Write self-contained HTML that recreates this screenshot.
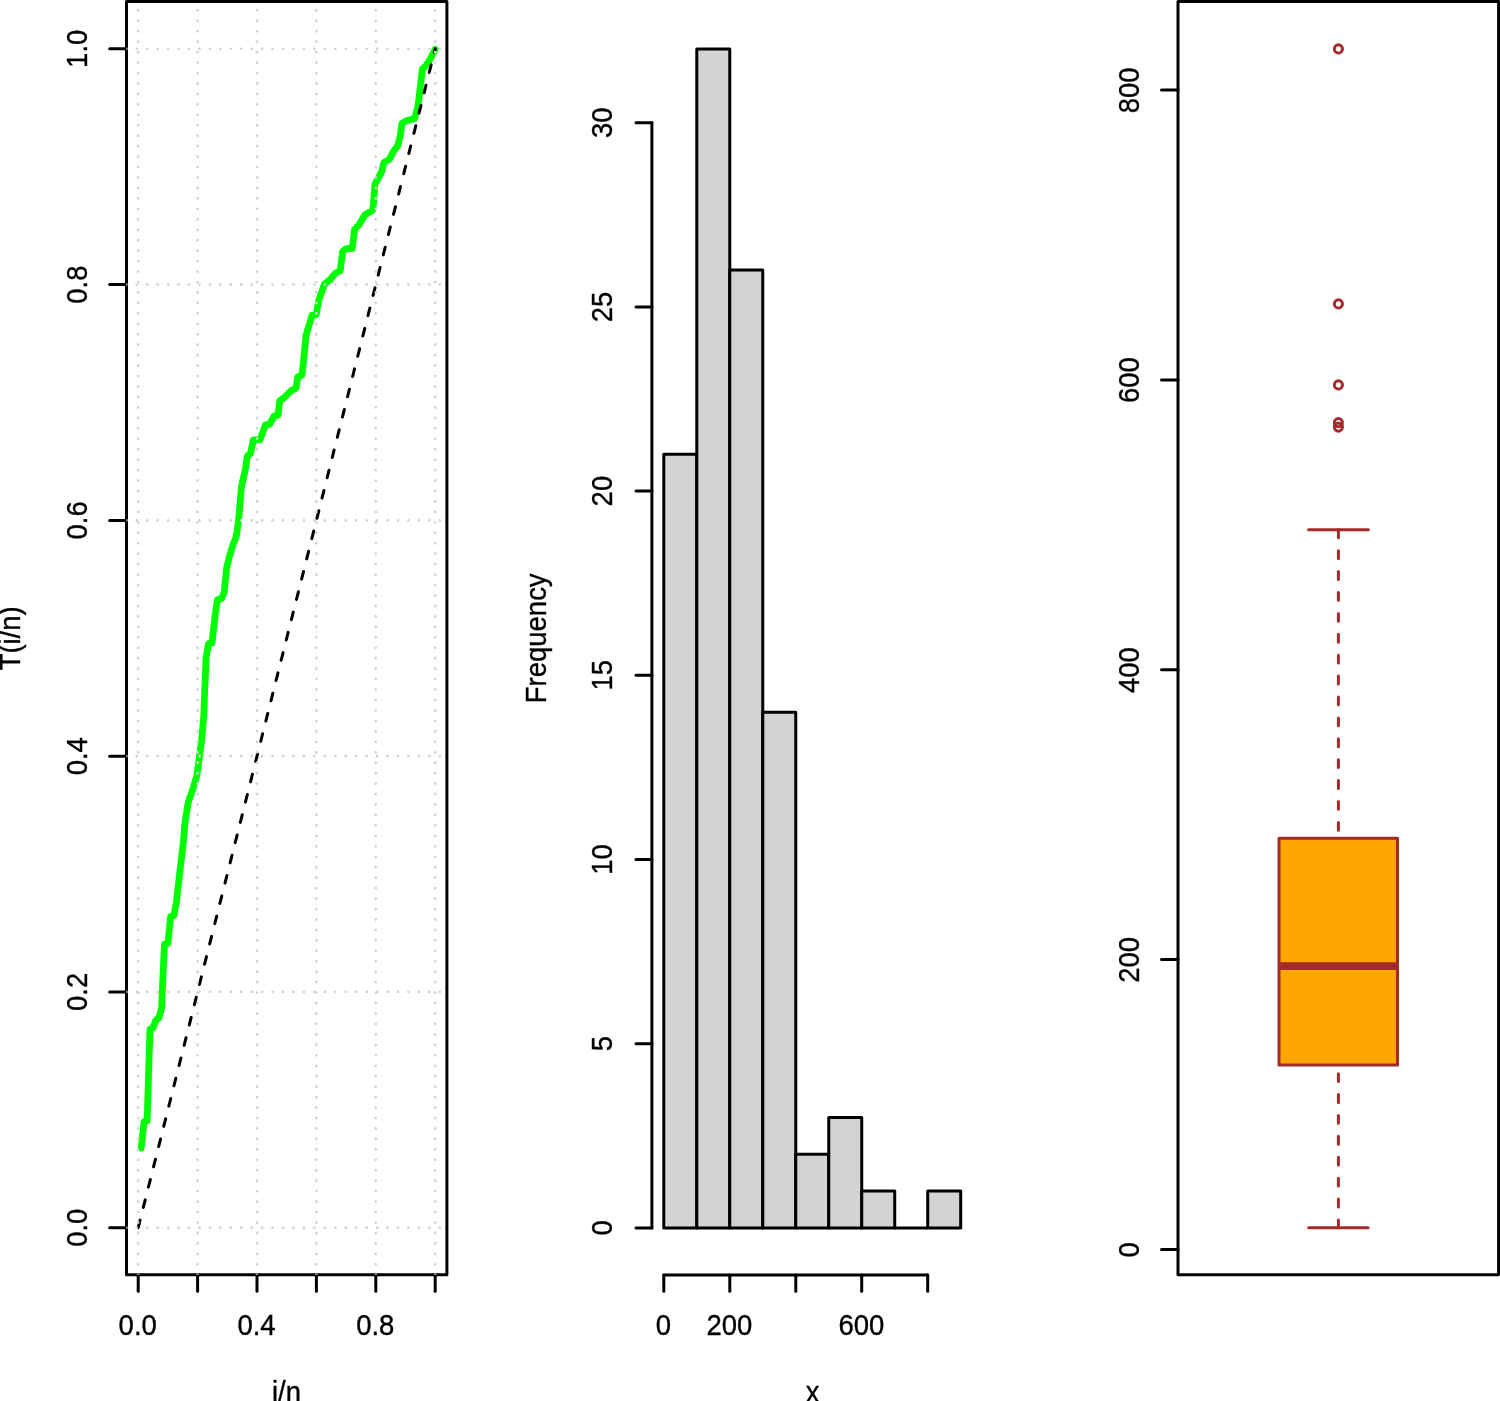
<!DOCTYPE html>
<html lang="en"><head><meta charset="utf-8"><title>TTT plot, histogram and boxplot</title>
<style>html,body{margin:0;padding:0;background:#fff}svg{display:block}text{stroke:#000;stroke-width:.36px;stroke-linejoin:round;filter:grayscale(1)}</style></head>
<body>
<svg width="1500" height="1401" viewBox="0 0 1500 1401" font-family='"Liberation Sans", sans-serif' font-size="27.5" fill="#000">
<rect width="1500" height="1401" fill="#fff"/>
<g id="ttt">
<polyline points="141.2,1148.2 144.1,1121.5 147.1,1121.0 150.0,1029.0 153.0,1028.0 156.0,1020.0 159.0,1018.0 161.6,1008.0 164.4,944.2 167.9,943.4 170.6,916.6 173.8,915.8 176.3,902.4 183.6,840.0 184.8,824.0 188.2,802.4 193.2,788.0 196.8,776.0 199.4,756.8 201.6,740.0 203.8,716.0 204.6,692.0 205.2,680.0 206.0,658.0 208.6,643.6 212.0,643.0 213.0,634.0 215.0,616.0 217.4,599.8 221.6,598.6 224.2,592.0 225.4,580.0 226.6,568.0 229.6,556.0 233.2,544.0 235.8,538.0 237.0,532.0 238.6,520.0 241.4,487.2 245.6,468.0 247.4,456.0 250.4,453.6 253.4,439.8 260.0,439.8 265.4,424.8 269.6,424.2 274.4,415.8 278.0,415.2 279.8,400.8 284.0,397.8 291.2,390.6 296.0,388.2 297.8,376.8 302.0,375.0 303.2,364.0 306.0,335.6 312.0,315.2 316.2,314.6 318.6,300.8 324.6,284.0 330.0,279.8 334.8,273.8 340.2,270.8 342.6,251.6 346.2,248.6 352.2,248.6 354.6,229.4 358.8,225.2 364.8,215.0 372.6,210.2 373.4,204.0 375.0,184.0 381.6,172.0 384.0,162.4 389.4,159.4 393.6,151.0 397.8,145.6 400.2,136.0 402.0,123.4 405.6,121.0 414.6,118.6 418.2,104.8 422.4,68.8 426.0,65.8 430.8,58.0 435.2,49.3" fill="none" stroke="#00ff00" stroke-width="6.8" stroke-linejoin="round" stroke-linecap="round"/>
<rect x="126.5" y="1.5" width="320.4" height="1273.2" fill="none" stroke="#000" stroke-width="3.0" stroke-linejoin="round"/>
<line x1="138.2" y1="1274.7" x2="138.2" y2="1291.3" stroke="#000" stroke-width="3.0" stroke-linecap="round"/>
<line x1="126.5" y1="1227.7" x2="109.7" y2="1227.7" stroke="#000" stroke-width="3.0" stroke-linecap="round"/>
<line x1="197.6" y1="1274.7" x2="197.6" y2="1291.3" stroke="#000" stroke-width="3.0" stroke-linecap="round"/>
<line x1="126.5" y1="991.9" x2="109.7" y2="991.9" stroke="#000" stroke-width="3.0" stroke-linecap="round"/>
<line x1="257.0" y1="1274.7" x2="257.0" y2="1291.3" stroke="#000" stroke-width="3.0" stroke-linecap="round"/>
<line x1="126.5" y1="756.2" x2="109.7" y2="756.2" stroke="#000" stroke-width="3.0" stroke-linecap="round"/>
<line x1="316.4" y1="1274.7" x2="316.4" y2="1291.3" stroke="#000" stroke-width="3.0" stroke-linecap="round"/>
<line x1="126.5" y1="520.4" x2="109.7" y2="520.4" stroke="#000" stroke-width="3.0" stroke-linecap="round"/>
<line x1="375.8" y1="1274.7" x2="375.8" y2="1291.3" stroke="#000" stroke-width="3.0" stroke-linecap="round"/>
<line x1="126.5" y1="284.6" x2="109.7" y2="284.6" stroke="#000" stroke-width="3.0" stroke-linecap="round"/>
<line x1="435.2" y1="1274.7" x2="435.2" y2="1291.3" stroke="#000" stroke-width="3.0" stroke-linecap="round"/>
<line x1="126.5" y1="48.8" x2="109.7" y2="48.8" stroke="#000" stroke-width="3.0" stroke-linecap="round"/>
<line x1="138.2" y1="1227.7" x2="435.2" y2="48.8" stroke="#000" stroke-width="3.0" stroke-dasharray="7.84 13.06" stroke-linecap="round"/>
<clipPath id="pr"><rect x="126.5" y="1.5" width="320.4" height="1273.2"/></clipPath>
<g clip-path="url(#pr)">
<line x1="138.2" y1="1274.8" x2="138.2" y2="1.5" stroke="#d3d3d3" stroke-width="2.8" stroke-linecap="round" stroke-dasharray="0.01 10.44"/>
<line x1="126.3" y1="1227.7" x2="446.9" y2="1227.7" stroke="#d3d3d3" stroke-width="2.8" stroke-linecap="round" stroke-dasharray="0.01 10.44"/>
<line x1="197.6" y1="1274.8" x2="197.6" y2="1.5" stroke="#d3d3d3" stroke-width="2.8" stroke-linecap="round" stroke-dasharray="0.01 10.44"/>
<line x1="126.3" y1="991.9" x2="446.9" y2="991.9" stroke="#d3d3d3" stroke-width="2.8" stroke-linecap="round" stroke-dasharray="0.01 10.44"/>
<line x1="257.0" y1="1274.8" x2="257.0" y2="1.5" stroke="#d3d3d3" stroke-width="2.8" stroke-linecap="round" stroke-dasharray="0.01 10.44"/>
<line x1="126.3" y1="756.2" x2="446.9" y2="756.2" stroke="#d3d3d3" stroke-width="2.8" stroke-linecap="round" stroke-dasharray="0.01 10.44"/>
<line x1="316.4" y1="1274.8" x2="316.4" y2="1.5" stroke="#d3d3d3" stroke-width="2.8" stroke-linecap="round" stroke-dasharray="0.01 10.44"/>
<line x1="126.3" y1="520.4" x2="446.9" y2="520.4" stroke="#d3d3d3" stroke-width="2.8" stroke-linecap="round" stroke-dasharray="0.01 10.44"/>
<line x1="375.8" y1="1274.8" x2="375.8" y2="1.5" stroke="#d3d3d3" stroke-width="2.8" stroke-linecap="round" stroke-dasharray="0.01 10.44"/>
<line x1="126.3" y1="284.6" x2="446.9" y2="284.6" stroke="#d3d3d3" stroke-width="2.8" stroke-linecap="round" stroke-dasharray="0.01 10.44"/>
<line x1="435.2" y1="1274.8" x2="435.2" y2="1.5" stroke="#d3d3d3" stroke-width="2.8" stroke-linecap="round" stroke-dasharray="0.01 10.44"/>
<line x1="126.3" y1="48.8" x2="446.9" y2="48.8" stroke="#d3d3d3" stroke-width="2.8" stroke-linecap="round" stroke-dasharray="0.01 10.44"/>
</g>
<text transform="translate(137.7,1334.5) scale(1,1.075)" text-anchor="middle">0.0</text>
<text transform="translate(256.5,1334.5) scale(1,1.075)" text-anchor="middle">0.4</text>
<text transform="translate(375.3,1334.5) scale(1,1.075)" text-anchor="middle">0.8</text>
<text transform="translate(86.8,1227.7) rotate(-90) scale(1,1.075)" text-anchor="middle">0.0</text>
<text transform="translate(86.8,991.9) rotate(-90) scale(1,1.075)" text-anchor="middle">0.2</text>
<text transform="translate(86.8,756.2) rotate(-90) scale(1,1.075)" text-anchor="middle">0.4</text>
<text transform="translate(86.8,520.4) rotate(-90) scale(1,1.075)" text-anchor="middle">0.6</text>
<text transform="translate(86.8,284.6) rotate(-90) scale(1,1.075)" text-anchor="middle">0.8</text>
<text transform="translate(86.8,48.8) rotate(-90) scale(1,1.075)" text-anchor="middle">1.0</text>
<text transform="translate(286.5,1402.4) scale(1,1.075)" text-anchor="middle">i/n</text>
<text transform="translate(20.3,638.3) rotate(-90) scale(1,1.075)" text-anchor="middle">T(i/n)</text>
</g>
<g id="hist">
<rect x="663.80" y="454.26" width="32.99" height="773.64" fill="#d3d3d3" stroke="#000" stroke-width="3.0" stroke-linejoin="round"/>
<rect x="696.79" y="49.02" width="32.99" height="1178.88" fill="#d3d3d3" stroke="#000" stroke-width="3.0" stroke-linejoin="round"/>
<rect x="729.78" y="270.06" width="32.99" height="957.84" fill="#d3d3d3" stroke="#000" stroke-width="3.0" stroke-linejoin="round"/>
<rect x="762.77" y="712.14" width="32.99" height="515.76" fill="#d3d3d3" stroke="#000" stroke-width="3.0" stroke-linejoin="round"/>
<rect x="795.76" y="1154.22" width="32.99" height="73.68" fill="#d3d3d3" stroke="#000" stroke-width="3.0" stroke-linejoin="round"/>
<rect x="828.75" y="1117.38" width="32.99" height="110.52" fill="#d3d3d3" stroke="#000" stroke-width="3.0" stroke-linejoin="round"/>
<rect x="861.74" y="1191.06" width="32.99" height="36.84" fill="#d3d3d3" stroke="#000" stroke-width="3.0" stroke-linejoin="round"/>
<line x1="894.73" y1="1227.90" x2="927.72" y2="1227.90" stroke="#000" stroke-width="3.0"/>
<rect x="927.72" y="1191.06" width="32.99" height="36.84" fill="#d3d3d3" stroke="#000" stroke-width="3.0" stroke-linejoin="round"/>
<line x1="663.8" y1="1274.9" x2="927.7" y2="1274.9" stroke="#000" stroke-width="3.0" stroke-linecap="round"/>
<line x1="663.8" y1="1274.9" x2="663.8" y2="1291.3" stroke="#000" stroke-width="3.0" stroke-linecap="round"/>
<line x1="729.8" y1="1274.9" x2="729.8" y2="1291.3" stroke="#000" stroke-width="3.0" stroke-linecap="round"/>
<line x1="795.8" y1="1274.9" x2="795.8" y2="1291.3" stroke="#000" stroke-width="3.0" stroke-linecap="round"/>
<line x1="861.7" y1="1274.9" x2="861.7" y2="1291.3" stroke="#000" stroke-width="3.0" stroke-linecap="round"/>
<line x1="927.7" y1="1274.9" x2="927.7" y2="1291.3" stroke="#000" stroke-width="3.0" stroke-linecap="round"/>
<text transform="translate(663.4,1334.5) scale(1,1.075)" text-anchor="middle">0</text>
<text transform="translate(729.4,1334.5) scale(1,1.075)" text-anchor="middle">200</text>
<text transform="translate(861.3,1334.5) scale(1,1.075)" text-anchor="middle">600</text>
<line x1="651.9" y1="1227.9" x2="651.9" y2="122.7" stroke="#000" stroke-width="3.0" stroke-linecap="round"/>
<line x1="651.9" y1="1227.9" x2="636.0" y2="1227.9" stroke="#000" stroke-width="3.0" stroke-linecap="round"/>
<text transform="translate(612.4,1227.9) rotate(-90) scale(1,1.075)" text-anchor="middle">0</text>
<line x1="651.9" y1="1043.7" x2="636.0" y2="1043.7" stroke="#000" stroke-width="3.0" stroke-linecap="round"/>
<text transform="translate(612.4,1043.7) rotate(-90) scale(1,1.075)" text-anchor="middle">5</text>
<line x1="651.9" y1="859.5" x2="636.0" y2="859.5" stroke="#000" stroke-width="3.0" stroke-linecap="round"/>
<text transform="translate(612.4,859.5) rotate(-90) scale(1,1.075)" text-anchor="middle">10</text>
<line x1="651.9" y1="675.3" x2="636.0" y2="675.3" stroke="#000" stroke-width="3.0" stroke-linecap="round"/>
<text transform="translate(612.4,675.3) rotate(-90) scale(1,1.075)" text-anchor="middle">15</text>
<line x1="651.9" y1="491.1" x2="636.0" y2="491.1" stroke="#000" stroke-width="3.0" stroke-linecap="round"/>
<text transform="translate(612.4,491.1) rotate(-90) scale(1,1.075)" text-anchor="middle">20</text>
<line x1="651.9" y1="306.9" x2="636.0" y2="306.9" stroke="#000" stroke-width="3.0" stroke-linecap="round"/>
<text transform="translate(612.4,306.9) rotate(-90) scale(1,1.075)" text-anchor="middle">25</text>
<line x1="651.9" y1="122.7" x2="636.0" y2="122.7" stroke="#000" stroke-width="3.0" stroke-linecap="round"/>
<text transform="translate(612.4,122.7) rotate(-90) scale(1,1.075)" text-anchor="middle">30</text>
<text transform="translate(812.5,1402.4) scale(1,1.075)" text-anchor="middle">x</text>
<text transform="translate(546.0,638.3) rotate(-90) scale(1,1.075)" text-anchor="middle">Frequency</text>
</g>
<g id="box">
<line x1="1338.4" y1="529.8" x2="1338.4" y2="838.3" stroke="#a52a2a" stroke-width="3.0" stroke-dasharray="7.84 13.06" stroke-linecap="round"/>
<line x1="1338.4" y1="1227.8" x2="1338.4" y2="1064.9" stroke="#a52a2a" stroke-width="3.0" stroke-dasharray="7.84 13.06" stroke-linecap="round"/>
<line x1="1308.5" y1="529.7" x2="1368.3" y2="529.7" stroke="#a52a2a" stroke-width="3.0" stroke-linecap="round"/>
<line x1="1308.7" y1="1227.8" x2="1368.1" y2="1227.8" stroke="#a52a2a" stroke-width="3.0" stroke-linecap="round"/>
<rect x="1279.0" y="838.3" width="118.5" height="226.6" fill="#ffa500" stroke="#a52a2a" stroke-width="3.0" stroke-linejoin="round"/>
<line x1="1279.0" y1="966.1" x2="1397.5" y2="966.1" stroke="#a52a2a" stroke-width="7.6"/>
<circle cx="1338.4" cy="48.9" r="4.05" fill="none" stroke="#a52a2a" stroke-width="3.0"/>
<circle cx="1338.4" cy="303.9" r="4.05" fill="none" stroke="#a52a2a" stroke-width="3.0"/>
<circle cx="1338.4" cy="384.9" r="4.05" fill="none" stroke="#a52a2a" stroke-width="3.0"/>
<circle cx="1338.4" cy="422.6" r="4.05" fill="none" stroke="#a52a2a" stroke-width="3.0"/>
<circle cx="1338.4" cy="427.1" r="4.05" fill="none" stroke="#a52a2a" stroke-width="3.0"/>
<rect x="1178.0" y="1.5" width="320.5999999999999" height="1273.2" fill="none" stroke="#000" stroke-width="3.0" stroke-linejoin="round"/>
<line x1="1178.0" y1="1249.5" x2="1161.5" y2="1249.5" stroke="#000" stroke-width="3.0" stroke-linecap="round"/>
<text transform="translate(1138.9,1249.8) rotate(-90) scale(1,1.075)" text-anchor="middle">0</text>
<line x1="1178.0" y1="959.6" x2="1161.5" y2="959.6" stroke="#000" stroke-width="3.0" stroke-linecap="round"/>
<text transform="translate(1138.9,959.9) rotate(-90) scale(1,1.075)" text-anchor="middle">200</text>
<line x1="1178.0" y1="669.8" x2="1161.5" y2="669.8" stroke="#000" stroke-width="3.0" stroke-linecap="round"/>
<text transform="translate(1138.9,670.1) rotate(-90) scale(1,1.075)" text-anchor="middle">400</text>
<line x1="1178.0" y1="379.9" x2="1161.5" y2="379.9" stroke="#000" stroke-width="3.0" stroke-linecap="round"/>
<text transform="translate(1138.9,380.2) rotate(-90) scale(1,1.075)" text-anchor="middle">600</text>
<line x1="1178.0" y1="90.1" x2="1161.5" y2="90.1" stroke="#000" stroke-width="3.0" stroke-linecap="round"/>
<text transform="translate(1138.9,90.4) rotate(-90) scale(1,1.075)" text-anchor="middle">800</text>
</g>
</svg>
</body></html>
